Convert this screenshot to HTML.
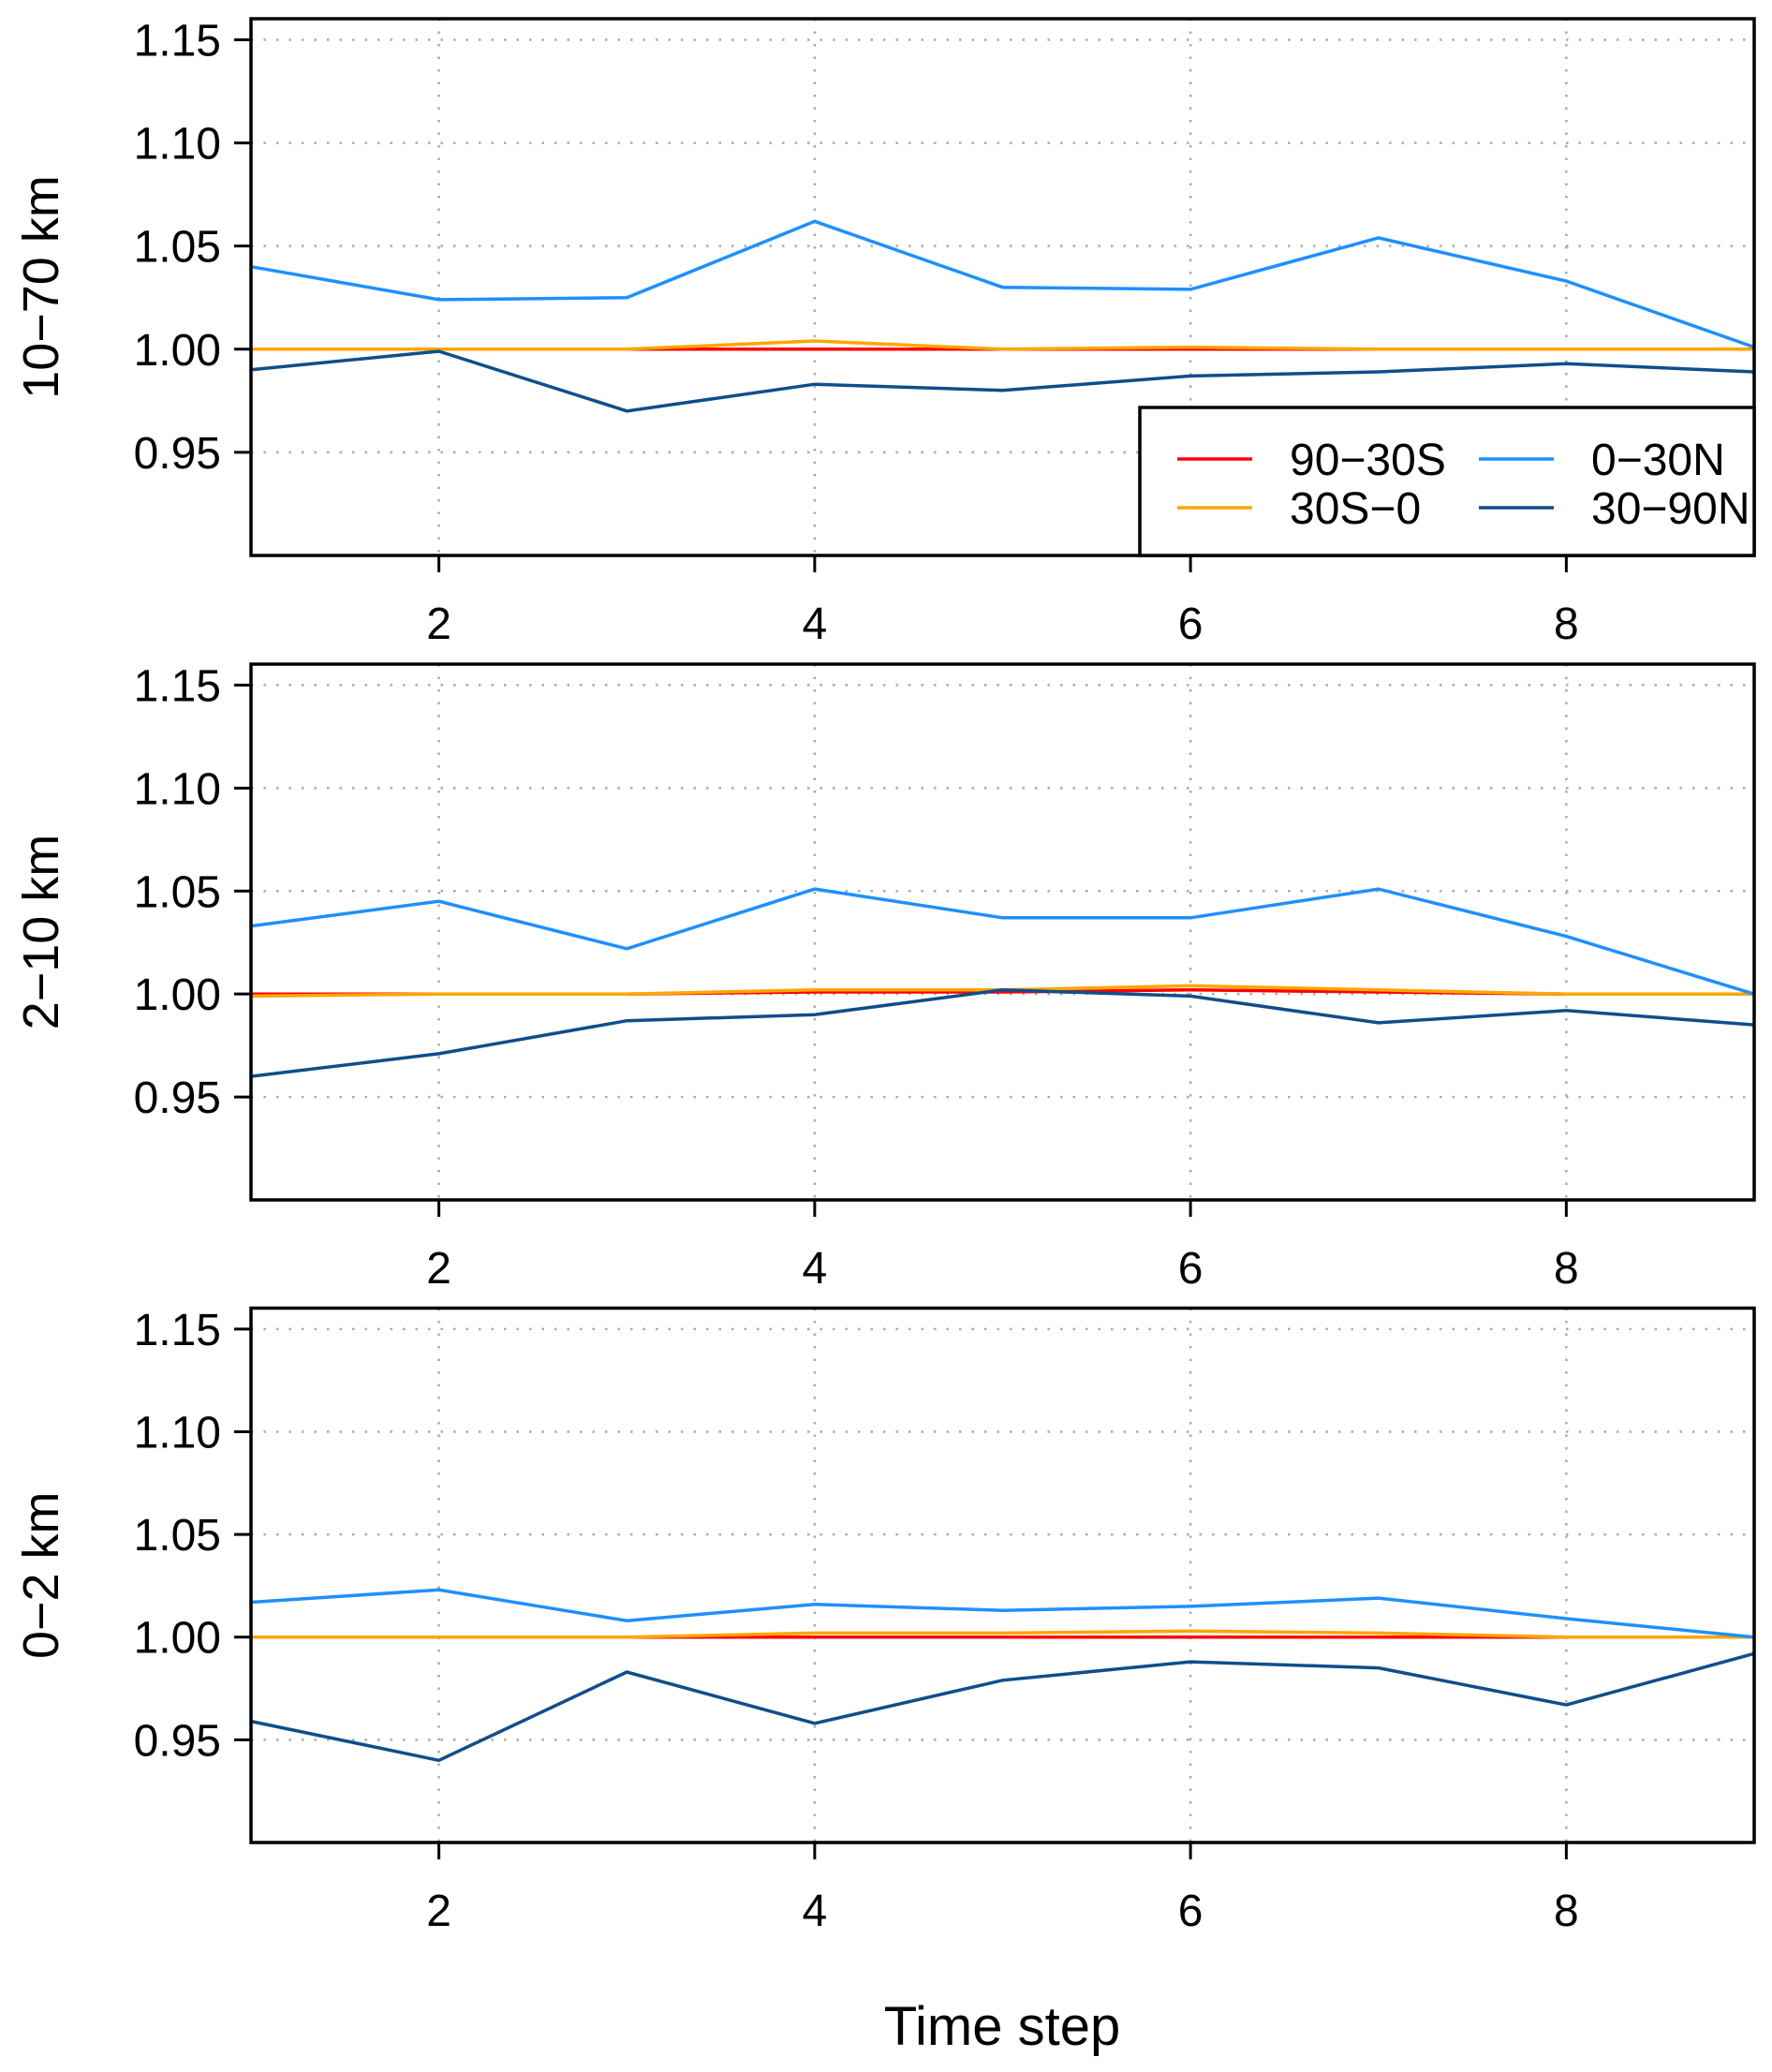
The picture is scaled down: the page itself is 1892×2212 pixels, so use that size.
<!DOCTYPE html>
<html><head><meta charset="utf-8"><style>
html,body{margin:0;padding:0;background:#fff;}
svg{display:block;font-family:"Liberation Sans",Arial,sans-serif;}
</style></head><body>
<svg id="chart" width="1892" height="2212" viewBox="0 0 1892 2212"></svg>
<script>
const steps = [1,2,3,4,5,6,7,8,9];
const panelNames = ["10\u221270 km","2\u221210 km","0\u22122 km"];
const seriesNames = ["90\u221230S","30S\u22120","0\u221230N","30\u221290N"];
const seriesColors = ["#ff0000","#ffa500","#1e90ff","#104e8b"];
const yTicks = [0.95,1.00,1.05,1.10,1.15];
const yTickLabels = ["0.95","1.00","1.05","1.10","1.15"];
const xTicks = [2,4,6,8];
const p1_s90_30S = [1,1,1,1,1,1,1,1,1];
const p1_s30S_0 = [1,1,1,1.004,1,1.001,1,1,1];
const p1_s0_30N = [1.040,1.024,1.025,1.062,1.030,1.029,1.054,1.033,1.001];
const p1_s30_90N = [0.990,0.999,0.970,0.983,0.980,0.987,0.989,0.993,0.989];
const p2_s90_30S = [1.0,1,1,1.001,1.001,1.002,1.001,1,1];
const p2_s30S_0 = [0.999,1,1,1.002,1.002,1.004,1.002,1,1];
const p2_s0_30N = [1.033,1.045,1.022,1.051,1.037,1.037,1.051,1.028,1.000];
const p2_s30_90N = [0.960,0.971,0.987,0.990,1.002,0.999,0.986,0.992,0.985];
const p3_s90_30S = [1,1,1,1,1,1,1,1,1];
const p3_s30S_0 = [1,1,1,1.002,1.002,1.003,1.002,1,1];
const p3_s0_30N = [1.017,1.023,1.008,1.016,1.013,1.015,1.019,1.009,1.000];
const p3_s30_90N = [0.959,0.940,0.983,0.958,0.979,0.988,0.985,0.967,0.992];
const panelData = [
  [p1_s90_30S,p1_s30S_0,p1_s0_30N,p1_s30_90N],
  [p2_s90_30S,p2_s30S_0,p2_s0_30N,p2_s30_90N],
  [p3_s90_30S,p3_s30S_0,p3_s0_30N,p3_s30_90N]
];

const NS="http://www.w3.org/2000/svg";
const svg=document.getElementById('chart');
function mk(tag,attrs,parent){const e=document.createElementNS(NS,tag);for(const k in attrs)e.setAttribute(k,attrs[k]);(parent||svg).appendChild(e);return e;}
const L=268,R=1873,YMIN=0.9,YMAX=1.1602;
const tops=[20,709,1396.5], bots=[593,1281,1967];
const xS=v=>L+(v-1)/(8)*(R-L);

panelData.forEach((series,pi)=>{
  const T=tops[pi],B=bots[pi];
  const yS=v=>B-(v-YMIN)/(YMAX-YMIN)*(B-T);
  const g=mk('g',{});
  
  
  yTicks.forEach((t,i)=>{
    const gl=mk('line',{x1:L,x2:R,y1:yS(t),y2:yS(t),stroke:'#aaa','stroke-width':2.5,'stroke-dasharray':'2.5 11'},g);
    
    
    mk('line',{x1:L-18,x2:L,y1:yS(t),y2:yS(t),stroke:'#000','stroke-width':3},g);
    const tx=mk('text',{x:L-32,y:yS(t)+17,'text-anchor':'end','font-size':48},g);
    tx.textContent=yTickLabels[i];
    
    
  });
  xTicks.forEach(t=>{
    const gl=mk('line',{x1:xS(t),x2:xS(t),y1:T,y2:B,stroke:'#aaa','stroke-width':2.5,'stroke-dasharray':'2.5 11'},g);
    
    
    mk('line',{x1:xS(t),x2:xS(t),y1:B,y2:B+18,stroke:'#000','stroke-width':3},g);
    const tx=mk('text',{x:xS(t),y:B+89,'text-anchor':'middle','font-size':48},g);
    tx.textContent=String(t);
    
    
  });
  series.forEach((vals,si)=>{
    const pts=vals.map((v,i)=>xS(steps[i]).toFixed(1)+','+yS(v).toFixed(1)).join(' ');
    const pl=mk('polyline',{points:pts,fill:'none',stroke:seriesColors[si],'stroke-width':3.5},g);
    
    
  });
  const fr=mk('rect',{x:L,y:T,width:R-L,height:B-T,fill:'none',stroke:'#000','stroke-width':3.5},g);
  
  
  const yl=mk('text',{x:0,y:0,'text-anchor':'middle','font-size':54,transform:`translate(62,${(T+B)/2}) rotate(-90)`},g);
  yl.textContent=panelNames[pi];
  
  
});

// legend
const lg=mk('g',{});


mk('rect',{x:1217,y:435,width:R-1217,height:593-435,fill:'#fff',stroke:'#000','stroke-width':3.5},lg);
const lpos=[[1257,490],[1257,542],[1579,490],[1579,542]];
seriesNames.forEach((n,i)=>{
  const [lx,ly]=lpos[i];
  const e=mk('g',{},lg);
  
  
  mk('line',{x1:lx,x2:lx+80,y1:ly,y2:ly,stroke:seriesColors[i],'stroke-width':3.5},e);
  const t=mk('text',{x:lx+120,y:ly+17,'font-size':48},e);
  t.textContent=n;
});

const xt=mk('text',{x:1070,y:2183,'text-anchor':'middle','font-size':58});
xt.textContent='Time step';


</script>
</body></html>
